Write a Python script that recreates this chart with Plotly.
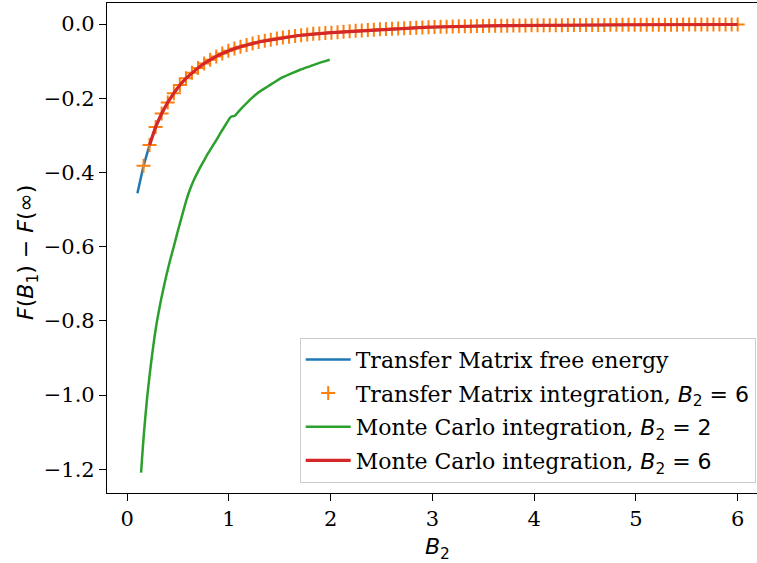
import plotly.graph_objects as go

# ---- data ----
b2 = [0.100, 0.160, 0.219, 0.279, 0.338, 0.398, 0.458, 0.517, 0.577, 0.636,
      0.696, 0.756, 0.815, 0.875, 0.934, 0.994, 1.054, 1.113, 1.173, 1.232,
      1.292, 1.352, 1.411, 1.471, 1.530, 1.590, 1.650, 1.709, 1.769, 1.828,
      1.888, 1.947, 2.007, 2.067, 2.126, 2.186, 2.245, 2.305, 2.365, 2.424,
      2.484, 2.543, 2.603, 2.663, 2.722, 2.782, 2.841, 2.901, 2.961, 3.020,
      3.080, 3.139, 3.199, 3.259, 3.318, 3.378, 3.437, 3.497, 3.557, 3.616,
      3.676, 3.735, 3.795, 3.855, 3.914, 3.974, 4.033, 4.093, 4.153, 4.212,
      4.272, 4.331, 4.391, 4.451, 4.510, 4.570, 4.629, 4.689, 4.749, 4.808,
      4.868, 4.927, 4.987, 5.047, 5.106, 5.166, 5.225, 5.285, 5.345, 5.404,
      5.464, 5.523, 5.583, 5.643, 5.702, 5.762, 5.821, 5.881, 5.941, 6.000]

f_tm = [-0.456, -0.382, -0.326, -0.277, -0.241, -0.211, -0.186, -0.164, -0.146, -0.131,
        -0.118, -0.106, -0.096, -0.087, -0.079, -0.072, -0.066, -0.061, -0.056, -0.052,
        -0.048, -0.045, -0.042, -0.039, -0.036, -0.034, -0.032, -0.030, -0.028, -0.026,
        -0.025, -0.024, -0.023, -0.022, -0.0205, -0.019, -0.018, -0.017, -0.016, -0.015,
        -0.014, -0.013, -0.0123, -0.0115, -0.0108, -0.0101, -0.0094, -0.0088, -0.0082, -0.0077,
        -0.0072, -0.0068, -0.0064, -0.0060, -0.0057, -0.0054, -0.0051, -0.0048, -0.0046, -0.0044,
        -0.0042, -0.0040, -0.0038, -0.0036, -0.0035, -0.0033, -0.0032, -0.0030, -0.0029, -0.0028,
        -0.0027, -0.0026, -0.0025, -0.0024, -0.0023, -0.0022, -0.0021, -0.0020, -0.0019, -0.0019,
        -0.0018, -0.0017, -0.0017, -0.0016, -0.0015, -0.0015, -0.0014, -0.0014, -0.0013, -0.0013,
        -0.0012, -0.0012, -0.0011, -0.0011, -0.0011, -0.0010, -0.0010, -0.0010, -0.0009, -0.0009]

# Transfer-matrix integration markers (B2 = 6)
b2_tmi = b2[1:]
f_tmi = f_tm[1:]

# Monte Carlo integration, B2 = 6
b2_mc6 = b2[2:]
f_mc6 = f_tm[2:]

# Monte Carlo integration, B2 = 2
b2_mc2 = [0.136, 0.145, 0.155, 0.165, 0.175, 0.185, 0.198, 0.215, 0.230, 0.250,
          0.270, 0.293, 0.320, 0.350, 0.385, 0.420, 0.457, 0.500, 0.540, 0.582,
          0.620, 0.664, 0.713, 0.760, 0.795, 0.840, 0.877, 0.926, 0.970, 1.008,
          1.025, 1.057, 1.100, 1.155, 1.205, 1.280, 1.369, 1.450, 1.530, 1.620,
          1.700, 1.780, 1.860, 1.930, 1.990]
f_mc2 = [-1.209, -1.173, -1.135, -1.100, -1.068, -1.038, -1.000, -0.958, -0.923, -0.880,
         -0.840, -0.800, -0.760, -0.720, -0.677, -0.638, -0.600, -0.555, -0.515, -0.474,
         -0.443, -0.415, -0.388, -0.365, -0.348, -0.328, -0.312, -0.289, -0.270, -0.253,
         -0.249, -0.247, -0.234, -0.218, -0.204, -0.186, -0.170, -0.156, -0.143, -0.132,
         -0.123, -0.115, -0.107, -0.101, -0.096]

x_ticks = [0, 1, 2, 3, 4, 5, 6]
y_ticks = [0.0, -0.2, -0.4, -0.6, -0.8, -1.0, -1.2]

SERIF = "DejaVu Serif"
MATH = "DejaVu Sans"
FS = 22

def math(s):
    return f"<span style='font-family:{MATH}'>{s}</span>"

names = [
    "Transfer Matrix free energy",
    "Transfer Matrix integration, " + math("<i>B</i><sub>2</sub> = 6"),
    "Monte Carlo integration, " + math("<i>B</i><sub>2</sub> = 2"),
    "Monte Carlo integration, " + math("<i>B</i><sub>2</sub> = 6"),
]

fig = go.Figure()
fig.add_trace(go.Scatter(x=b2, y=f_tm, mode="lines", name=names[0], legendgroup="a",
                         line=dict(color="#1f77b4", width=2.5)))
fig.add_trace(go.Scatter(x=b2_tmi, y=f_tmi, mode="markers", name=names[1], legendgroup="b",
                         marker=dict(symbol="cross-thin", size=10, color="#ff7f0e",
                                     line=dict(color="#ff7f0e", width=2))))
fig.add_trace(go.Scatter(x=b2_mc2, y=f_mc2, mode="lines", name=names[2], legendgroup="c",
                         line=dict(color="#2ca02c", width=2.5, shape="spline", smoothing=0.5)))
fig.add_trace(go.Scatter(x=b2_mc6, y=f_mc6, mode="lines", name=names[3], legendgroup="d",
                         line=dict(color="#d62728", width=3.2)))

fig.update_layout(
    width=757, height=563,
    margin=dict(l=107, r=0, t=3, b=70),
    paper_bgcolor="white", plot_bgcolor="white",
    font=dict(family=SERIF, size=FS, color="black"),
    showlegend=True,
    legend=dict(x=0.998, y=0.021, xanchor="right", yanchor="bottom",
                bgcolor="rgba(255,255,255,0.8)", bordercolor="#cccccc", borderwidth=1,
                font=dict(family=SERIF, size=FS, color="black"),
                traceorder="grouped", tracegroupgap=2, itemwidth=45),
    xaxis=dict(range=[-0.199, 6.19], tickmode="array", tickvals=x_ticks,
               ticktext=[str(v) for v in x_ticks],
               showgrid=False, zeroline=False, showline=True, mirror=True,
               linecolor="black", linewidth=1.2, ticks="outside", ticklen=7,
               tickwidth=1.2, tickcolor="black",
               tickfont=dict(family=SERIF, size=21, color="black")),
    yaxis=dict(range=[-1.264, 0.057], tickmode="array", tickvals=y_ticks,
               tickformat=".1f",
               showgrid=False, zeroline=False, showline=True, mirror=False,
               linecolor="black", linewidth=1.2, ticks="outside", ticklen=7,
               tickwidth=1.2, tickcolor="black",
               tickfont=dict(family=SERIF, size=21, color="black")),
    annotations=[
        dict(text=math("<i>B</i><sub>2</sub>"), xref="paper", yref="paper",
             x=0.508, y=-0.080, xanchor="center", yanchor="top", showarrow=False,
             font=dict(family=MATH, size=FS, color="black")),
        dict(text=math("<i>F</i>(<i>B</i><sub>1</sub>) − <i>F</i>(∞)"), xref="paper", yref="paper",
             x=-0.1215, y=0.49, xanchor="center", yanchor="middle", showarrow=False,
             textangle=-90, font=dict(family=MATH, size=FS, color="black")),
    ],
)

fig.write_html("out.html", config={"displayModeBar": False})
with open("out.html", "r", encoding="utf-8") as fh:
    html = fh.read()
html = html.replace("<head>", "<head><style>html,body{margin:0;padding:0;overflow:hidden;}</style>", 1)
with open("out.html", "w", encoding="utf-8") as fh:
    fh.write(html)
